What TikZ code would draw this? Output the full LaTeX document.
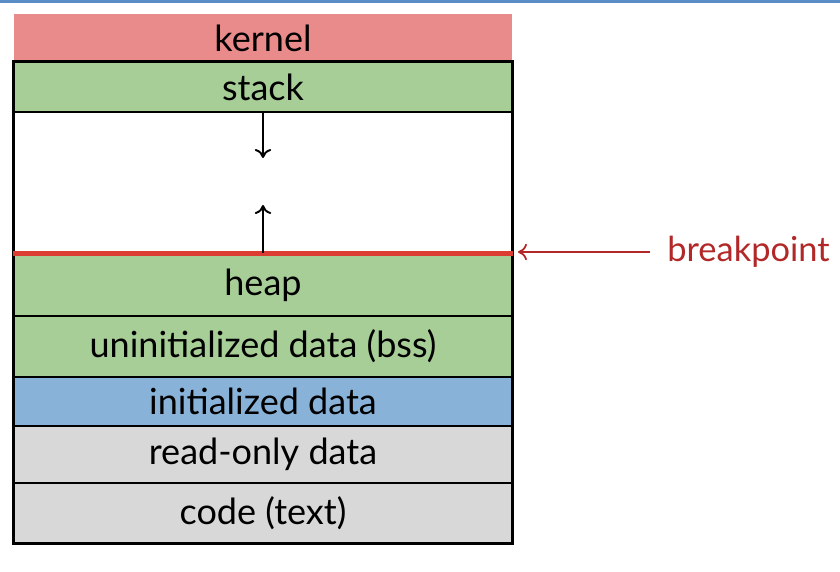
\documentclass[tikz,border=0pt]{standalone}
\usepackage{fontspec}
\setmainfont{Lato}
\usetikzlibrary{arrows.meta}
\definecolor{kred}{RGB}{233,139,138}
\definecolor{sgreen}{RGB}{166,206,150}
\definecolor{iblue}{RGB}{136,178,216}
\definecolor{rgray}{RGB}{216,216,216}
\definecolor{bline}{RGB}{220,60,50}
\definecolor{bpred}{RGB}{178,40,40}
\definecolor{topblue}{RGB}{90,140,200}
\tikzset{
  lbl/.style={font=\fontsize{20.5}{24}\selectfont},
  seg/.style={draw=black, line width=0.8pt, inner sep=0pt, minimum width=9.96cm, lbl},
  outer/.style={draw=black, line width=1.4pt},
  growarrow/.style={-{To[length=1.8mm,width=3.3mm]}, line width=1.1pt},
}
\begin{document}
\begin{tikzpicture}[x=0.02cm,y=-0.02cm]
\useasboundingbox (0,0) rectangle (840,572);
\fill[topblue] (0,0) rectangle (840,3);
\node[seg, draw=none, fill=kred, minimum height=0.96cm] (kernel) at (263,38) {kernel};
\node[seg, fill=sgreen, minimum height=1.0cm] (stack) at (263,87) {stack};
\node[seg, fill=white, minimum height=2.8cm] (gap) at (263,182) {};
\node[seg, fill=sgreen, minimum height=1.24cm] (heap) at (263,285) {heap};
\node[seg, fill=sgreen, minimum height=1.22cm] (bss) at (263,346.5) {uninitialized data (bss)};
\node[seg, fill=iblue, minimum height=0.98cm] (init) at (263,401.5) {initialized data};
\node[seg, fill=rgray, minimum height=1.14cm] (rodata) at (263,454.5) {read-only data};
\node[seg, fill=rgray, minimum height=1.2cm] (code) at (263,513) {code (text)};
\draw[outer] (stack.north west) rectangle (code.south east);
\draw[bline, line width=2.6pt] (heap.north west) -- (heap.north east);
\coordinate (downend) at (263,158);
\coordinate (upend) at (263,205);
\draw[growarrow] (stack.south) -- (downend);
\draw[growarrow] (heap.north) -- (upend);
\node[font=\fontsize{19.6}{23}\selectfont, text=bpred, anchor=west, inner sep=0pt] (bp) at (667,252) {breakpoint};
\coordinate (bpstart) at (650,252);
\coordinate (bpend) at (518,252);
\draw[-{To[length=1.8mm,width=3.3mm]}, bpred, line width=1pt] (bpstart) -- (bpend);
\end{tikzpicture}
\end{document}
